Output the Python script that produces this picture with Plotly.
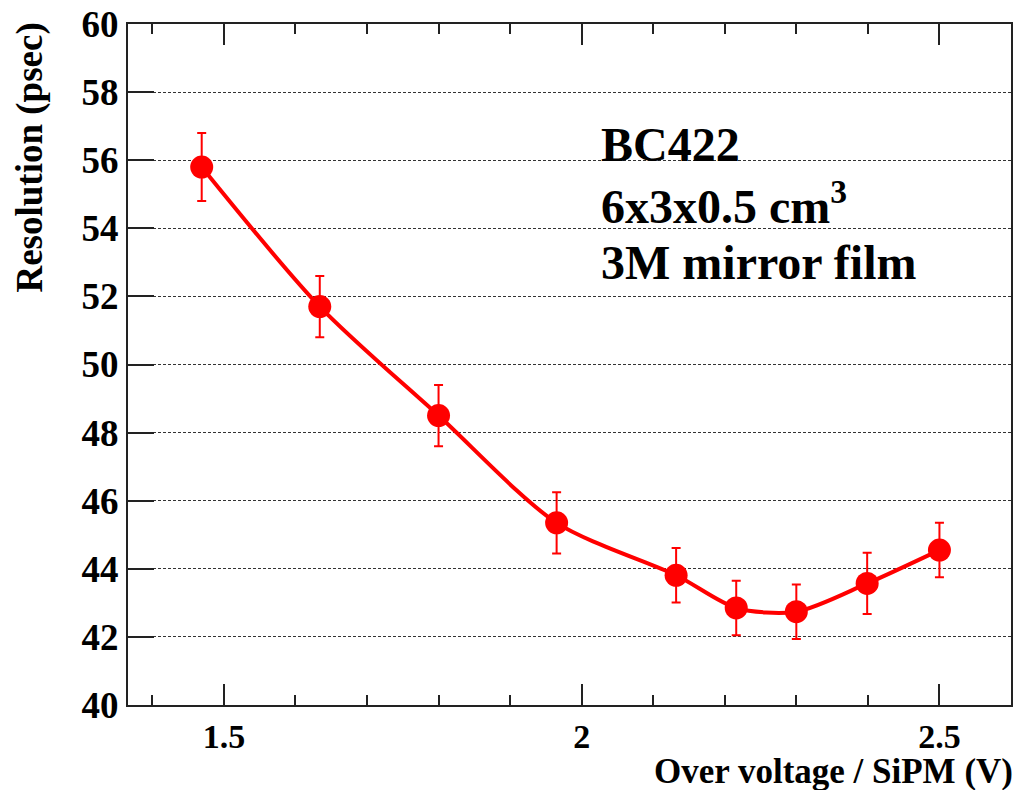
import plotly.graph_objects as go

# Over voltage per SiPM (V) and measured time resolution (psec)
over_voltage = [1.469, 1.634, 1.800, 1.965, 2.132, 2.216, 2.300, 2.399, 2.500]
resolution = [55.80, 51.70, 48.50, 45.35, 43.81, 42.85, 42.74, 43.57, 44.55]
resolution_err = [1.00, 0.90, 0.90, 0.90, 0.80, 0.80, 0.80, 0.90, 0.80]

y_ticks = [40, 42, 44, 46, 48, 50, 52, 54, 56, 58, 60]
x_ticks = [1.5, 2.0, 2.5]
x_tick_text = ["1.5", "2", "2.5"]

label_lines = ["BC422", "6x3x0.5 cm<sup>3</sup>", "3M mirror film"]

RED = "#ff0000"
FONT = "Liberation Serif"

fig = go.Figure()
fig.add_trace(go.Scatter(
    x=over_voltage,
    y=resolution,
    mode="lines+markers",
    line=dict(color=RED, width=4, shape="spline", smoothing=0.8),
    marker=dict(color=RED, size=23, symbol="circle"),
    error_y=dict(type="data", array=resolution_err, visible=True,
                 color=RED, thickness=2, width=4.5),
    showlegend=False,
))

fig.update_layout(
    width=1017,
    height=790,
    margin=dict(l=128, r=4, t=23, b=85),
    paper_bgcolor="white",
    plot_bgcolor="white",
    font=dict(family=FONT, color="black"),
    xaxis=dict(
        range=[1.366, 2.6],
        tickvals=x_ticks,
        ticktext=x_tick_text,
        ticks="inside",
        ticklen=21,
        tickwidth=1.5,
        tickcolor="#222222",
        minor=dict(dtick=0.1, tick0=1.4, ticks="inside", ticklen=10,
                   tickwidth=1.5, tickcolor="#222222", showgrid=False),
        showgrid=False,
        zeroline=False,
        showline=True,
        linecolor="#222222",
        linewidth=2,
        mirror="allticks",
        tickfont=dict(family=FONT, size=34, color="black", weight="bold"),
    ),
    yaxis=dict(
        range=[40, 60],
        tickvals=y_ticks,
        ticks="inside",
        ticklen=26,
        tickwidth=1.5,
        tickcolor="#222222",
        showgrid=True,
        gridcolor="#333333",
        gridwidth=1,
        griddash="3px,2px",
        zeroline=False,
        showline=True,
        linecolor="#222222",
        linewidth=2,
        mirror=True,
        tickfont=dict(family=FONT, size=37, color="black", weight="bold"),
    ),
)

# Axis titles, right-aligned to the axis ends
fig.add_annotation(
    text="<b>Over voltage / SiPM (V)</b>",
    xref="paper", yref="paper",
    x=1.003, y=-0.128,
    xanchor="right", yanchor="bottom",
    borderpad=0,
    showarrow=False,
    font=dict(family=FONT, size=35, color="black"),
)
fig.add_annotation(
    text="<b>Resolution (psec)</b>",
    xref="paper", yref="paper",
    x=-0.111, y=1.005,
    xanchor="center", yanchor="top",
    textangle=-90,
    showarrow=False,
    font=dict(family=FONT, size=37, color="black"),
)

# Sample description
for i, line in enumerate(label_lines):
    fig.add_annotation(
        text=f"<b>{line}</b>",
        xref="x", yref="y",
        x=2.024, y=56.45 - i * 1.72,
        xanchor="left", yanchor="middle",
        showarrow=False,
        font=dict(family=FONT, size=48, color="black"),
    )

fig.write_html("out.html")
